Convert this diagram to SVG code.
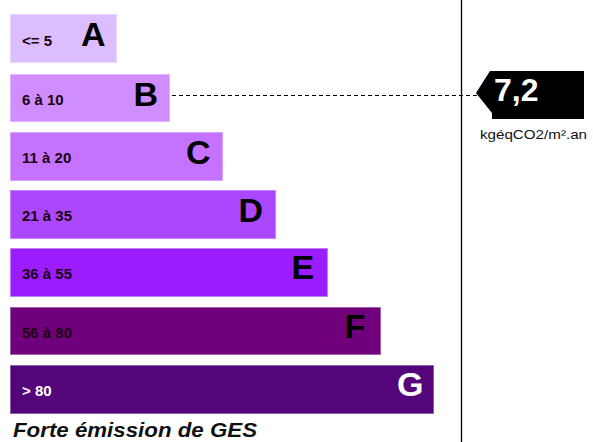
<svg xmlns="http://www.w3.org/2000/svg" width="593" height="442" viewBox="0 0 593 442">
<style>
.bar{stroke-width:1}
.rng{font-family:"Liberation Sans",Arial,sans-serif;font-weight:bold;font-size:15px;fill:#1a0010}
.let{font-family:"Liberation Sans",Arial,sans-serif;font-weight:bold;font-size:34px;fill:#000}
</style>
<rect width="593" height="442" fill="#fff"/>
<g id="barA"><rect class="bar" x="10.5" y="14.5" width="106" height="48" fill="#dcbdff" stroke="#e9d4ff"/><text class="rng" x="22" y="46">&lt;= 5</text><text class="let" x="81" y="46">A</text></g>
<g id="barB"><rect class="bar" x="10.5" y="74.5" width="159" height="47" fill="#d08dff" stroke="#e2b5ff"/><text class="rng" x="22" y="105">6 à 10</text><text class="let" x="133.5" y="106">B</text></g>
<g id="barC"><rect class="bar" x="10.5" y="132.5" width="212" height="48" fill="#c472ff" stroke="#d9a3ff"/><text class="rng" x="22" y="163">11 à 20</text><text class="let" x="186" y="164">C</text></g>
<g id="barD"><rect class="bar" x="10.5" y="190.5" width="265" height="48" fill="#ab47ff" stroke="#c784ff"/><text class="rng" x="22" y="221">21 à 35</text><text class="let" x="238.5" y="222">D</text></g>
<g id="barE"><rect class="bar" x="10.5" y="248.5" width="317" height="48" fill="#9a1cff" stroke="#c080ff"/><text class="rng" x="22" y="279">36 à 55</text><text class="let" x="291.5" y="279">E</text></g>
<g id="barF"><rect class="bar" x="10.5" y="307.5" width="370" height="47" fill="#71007c" stroke="#a060b0"/><text class="rng" x="22" y="338">56 à 80</text><text class="let" x="344.5" y="338">F</text></g>
<g id="barG"><rect class="bar" x="10.5" y="365.5" width="423" height="48" fill="#54057a" stroke="#8a60b0"/><text class="rng" x="22" y="396" style="fill:#fff">&gt; 80</text><text class="let" x="397" y="396" style="fill:#fff">G</text></g>
<g id="connectors">
<line x1="461.5" y1="0" x2="461.5" y2="442" stroke="#000" stroke-width="1.3"/>
<line x1="172" y1="95.5" x2="478" y2="95.5" stroke="#000" stroke-width="1.2" stroke-dasharray="4,3"/>
</g>
<g id="value">
<polygon points="476,93 490,71 584,71 584,119 492,119 492,113" fill="#000"/>
<text x="494" y="101" font-family="Liberation Sans,Arial,sans-serif" font-weight="bold" font-size="32" fill="#fff">7,2</text>
<text x="480" y="139" font-family="Liberation Sans,Arial,sans-serif" font-size="13" fill="#111" textLength="107" lengthAdjust="spacingAndGlyphs">kgéqCO2/m².an</text>
</g>
<text x="13" y="437" font-family="Liberation Sans,Arial,sans-serif" font-weight="bold" font-style="italic" font-size="20" fill="#111" textLength="244" lengthAdjust="spacingAndGlyphs">Forte émission de GES</text>
</svg>
